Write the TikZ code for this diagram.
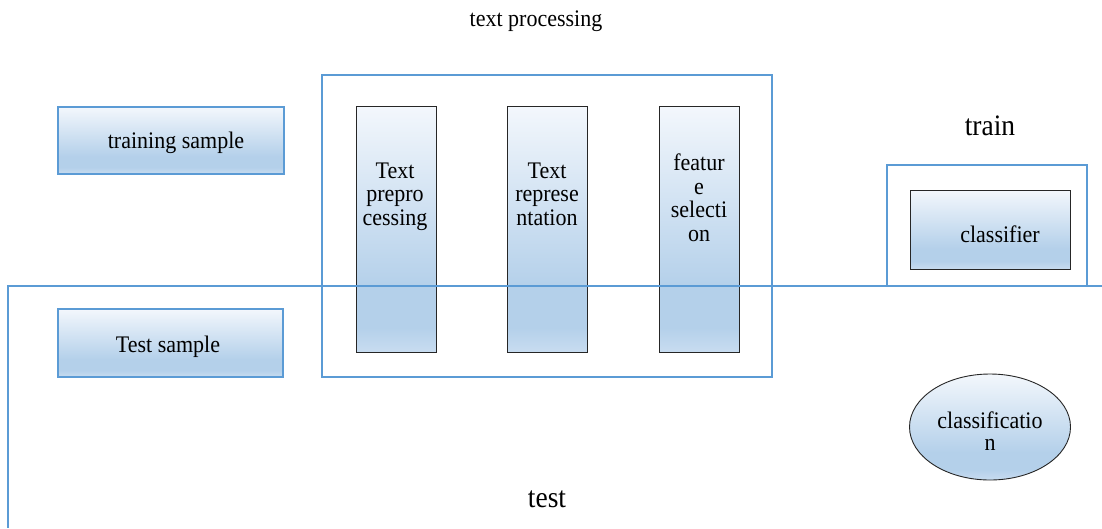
\documentclass[tikz,border=0pt]{standalone}
\usepackage{graphicx}
\usepackage{fontspec}
\setmainfont{Liberation Serif}
\usetikzlibrary{shapes.geometric}

\definecolor{frameblue}{HTML}{5B9BD5}
\definecolor{edgegray}{HTML}{262626}
\definecolor{shtop}{HTML}{F3F7FC}
\definecolor{shmid}{HTML}{B4D0EA}
\definecolor{shbot}{HTML}{C8DCF0}

% light-to-blue gradient used by all filled shapes (bottom to top)
\pgfdeclareverticalshading{softblue}{100bp}{%
  color(0bp)=(shbot); color(25bp)=(shbot); color(30bp)=(shmid);
  color(38bp)=(shmid); color(75bp)=(shtop); color(100bp)=(shtop)}

% slightly tall lettering
\newcommand{\tl}[1]{\scalebox{1}[1.08]{#1}}

\tikzset{
  framebox/.style={draw=frameblue, line width=1.2pt, rectangle, inner sep=0pt},
  samplebox/.style={draw=frameblue, line width=1.2pt, shading=softblue,
    rectangle, inner sep=0pt},
  stagebox/.style={draw=edgegray, line width=0.9pt, shading=softblue,
    rectangle, inner sep=0pt},
  bodytext/.style={font=\fontsize{22}{23.5}\selectfont, align=center, inner sep=0pt},
  bigtext/.style={font=\fontsize{27.5}{30}\selectfont, inner sep=0pt},
  splitline/.style={draw=frameblue, line width=1.2pt}
}

\begin{document}
\begin{tikzpicture}[x=1pt,y=-1pt]
\useasboundingbox[fill=white] (0,0) rectangle (1102,528);

% heading of the processing block
\node[bodytext, anchor=base] (title) at (536,26.5) {\tl{text processing}};

% input samples
\node[samplebox, minimum width=226, minimum height=67] (train-sample) at (171,140.5) {};
\node[bodytext, anchor=base] (train-sample-t) at (176,148.3) {\tl{training sample}};
\node[samplebox, minimum width=225, minimum height=68] (test-sample) at (170.5,343) {};
\node[bodytext, anchor=base] (test-sample-t) at (168,352.5) {\tl{Test sample}};

% text processing block with its three stages
\node[framebox, minimum width=450, minimum height=302] (proc) at (547,226) {};
\node[stagebox, minimum width=80, minimum height=246] (pre) at (396,229) {};
\node[stagebox, minimum width=80, minimum height=246] (rep) at (547,229) {};
\node[stagebox, minimum width=80, minimum height=246] (sel) at (699,229) {};
\node[bodytext, anchor=north] (pre-t) at (395,162.5) {\tl{Text}\\\tl{prepro}\\\tl{cessing}};
\node[bodytext, anchor=north] (rep-t) at (547,162.5) {\tl{Text}\\\tl{represe}\\\tl{ntation}};
\node[bodytext, anchor=north] (sel-t) at (699,154) {\tl{featur}\\\tl{e}\\\tl{selecti}\\\tl{on}};

% training stage
\node[bigtext, anchor=base] (train-label) at (990,135.5) {\tl{train}};
\node[framebox, minimum width=200, minimum height=121] (train-frame) at (987,225.5) {};
\node[stagebox, minimum width=160, minimum height=79] (clf) at (990,229.5) {};
\node[bodytext, anchor=base] (clf-t) at (1000,242.5) {\tl{classifier}};

% test stage
\node[ellipse, draw=edgegray, line width=0.9pt, shading=softblue,
      minimum width=161, minimum height=106, inner sep=0pt] (result) at (990,427) {};
\node[bodytext, anchor=north, font=\fontsize{22}{21.5}\selectfont] (result-t) at (990,412) {\tl{classificatio}\\\tl{n}};
\node[bigtext, anchor=base] (test-label) at (547,507) {\tl{test}};

% boundary between the training and test regions
\coordinate (split-right) at (1102,286);
\coordinate (split-bottom) at (8,528);
\draw[splitline] (split-right) -| (split-bottom);
\end{tikzpicture}
\end{document}
